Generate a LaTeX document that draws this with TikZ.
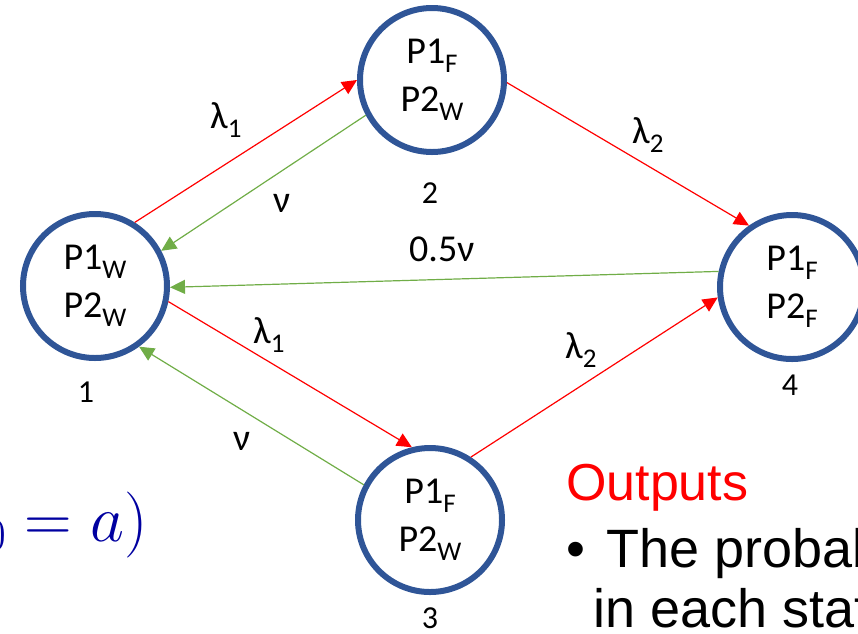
\RequirePackage{fix-cm}
\documentclass[tikz,border=0pt]{standalone}
\usepackage{fontspec}
\setmainfont{Carlito}
\newfontfamily\arialfont{Liberation Sans}
\usetikzlibrary{arrows.meta}
\definecolor{stateblue}{RGB}{47,85,151}
\definecolor{repgreen}{RGB}{112,173,71}
\definecolor{mathblue}{RGB}{0,0,160}
\newcommand{\sbs}[1]{\raisebox{-9pt}{\fontsize{27}{27}\selectfont #1}}

\begin{document}
\begin{tikzpicture}[x=1pt, y=-1pt,
    state/.style={draw=stateblue, circle, line width=6pt, minimum size=144pt, inner sep=0pt, align=center, font=\fontsize{38}{48}\selectfont},
    fail/.style={-{Triangle[length=15pt, width=14pt]}, red, line width=1.2pt},
    repair/.style={-{Triangle[length=15pt, width=14pt]}, repgreen, line width=1.2pt},
    rate/.style={anchor=base west, inner sep=0pt, font=\fontsize{38}{38}\selectfont},
    num/.style={anchor=base, inner sep=0pt, font=\fontsize{32}{32}\selectfont},
    slide/.style={anchor=base west, inner sep=0pt, font=\arialfont\fontsize{54}{54}\selectfont}
]
    \useasboundingbox (0,0) rectangle (858,633);
    \clip (0,0) rectangle (858,633);

    % === States ===
    \node[state] (s1) at (95,286) {P1\sbs{W}\\P2\sbs{W}};
    \node[state] (s2) at (432,80) {P1\sbs{F}\\P2\sbs{W}};
    \node[state] (s3) at (430,520) {P1\sbs{F}\\P2\sbs{W}};
    \node[state] (s4) at (792,287) {P1\sbs{F}\\P2\sbs{F}};

    \node[num] (n1) at (86,402) {1};
    \node[num] (n2) at (430,203) {2};
    \node[num] (n3) at (430,628) {3};
    \node[num] (n4) at (790,395) {4};

    % === Failures ===
    \draw[fail] (s1.58) -- (s2.180);
    \draw[fail] (s2.358) -- (s4.125);
    \draw[fail] (s1.348) -- (s3.104);
    \draw[fail] (s3.57) -- (s4.188);

    % === Repairs ===
    \draw[repair] (s2.208) -- (s1.28);
    \draw[repair] (s4.168) -- (s1.359);
    \draw[repair] (s3.152) -- (s1.306);

    % Rates
    \node[rate] (l1a) at (210,128) {λ\sbs{1}};
    \node[rate] (nu1) at (273,212) {ν};
    \node[rate] (l2a) at (632,143) {λ\sbs{2}};
    \node[rate] (nuh) at (409,261) {0.5ν};
    \node[rate] (l1b) at (253,343) {λ\sbs{1}};
    \node[rate] (l2b) at (565,358) {λ\sbs{2}};
    \node[rate] (nu2) at (233,450) {ν};

    % Slide text around the diagram
    \node[anchor=base east, inner sep=0pt, text=mathblue, font=\fontsize{66}{66}\selectfont] (init) at (148,541) {${}_0 = a)$};
    \node[slide, text=red, font=\arialfont\fontsize{52}{52}\selectfont] (out) at (566,500) {Outputs};
    \node[slide] (bul) at (566,567) {\textbullet};
    \node[slide] (txt1) at (606,567) {The probability};
    \node[slide] (txt2) at (593,627) {in each state};
\end{tikzpicture}
\end{document}
